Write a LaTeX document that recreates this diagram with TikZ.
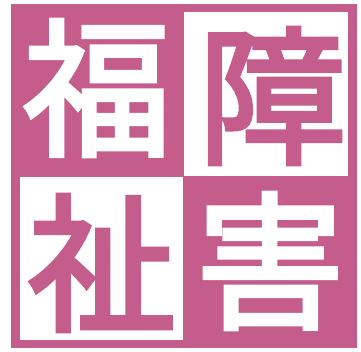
\documentclass[tikz,border=0pt]{standalone}
\usepackage{fontspec}
\newfontfamily\cjk[FakeBold=3]{Noto Sans CJK JP}
\definecolor{fukupink}{RGB}{196,92,140}

\begin{document}
\begin{tikzpicture}[
    x=1pt, y=-1pt,
    kanji/.style = {
      font=\cjk\fontsize{148}{148}\selectfont,
      inner sep = 0pt,
      anchor = center
    },
    onpink/.style = {kanji, text=white},
    onwhite/.style = {kanji, text=fukupink}
  ]
  \useasboundingbox (0,0) rectangle (361,352);
  % pink square with two white panes
  \fill[fukupink] (11,4) rectangle (357,348);
  \fill[white] (184,12) rectangle (348,176);
  \fill[white] (20,177) rectangle (183,340);
  % the four characters
  \node[onpink]  (fuku)  at (97,88)   {福};
  \node[onwhite] (sho)   at (272,96)  {障};
  \node[onwhite] (shi)   at (102,263) {祉};
  \node[onpink]  (gai)   at (270,261) {害};
\end{tikzpicture}
\end{document}
